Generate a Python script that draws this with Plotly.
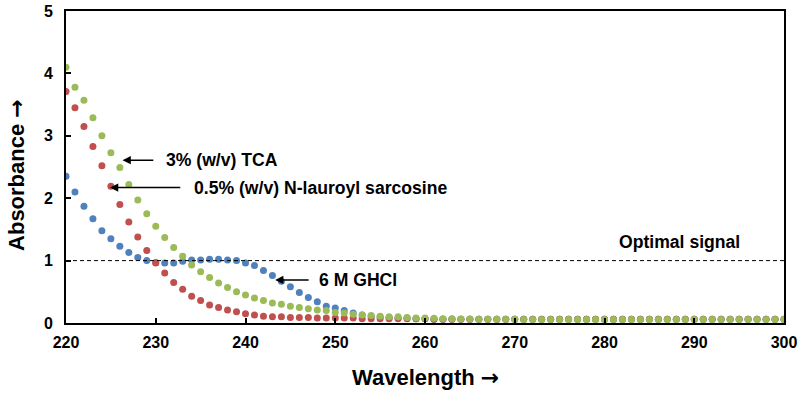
import plotly.graph_objects as go

wavelength = list(range(220, 301))

ghcl = [2.35, 2.10, 1.87, 1.67, 1.48, 1.35, 1.23, 1.13, 1.05, 1.00,
        0.97, 0.96, 0.96, 0.99, 1.01, 1.01, 1.02, 1.02, 1.01, 1.00,
        0.96, 0.92, 0.84, 0.76, 0.67, 0.58, 0.49, 0.41, 0.34, 0.27,
        0.24, 0.20, 0.16, 0.13, 0.11, 0.10, 0.09, 0.08, 0.08, 0.07,
        0.07, 0.06, 0.06, 0.06, 0.06, 0.06, 0.06, 0.06, 0.06, 0.06,
        0.06, 0.06, 0.06, 0.06, 0.06, 0.06, 0.06, 0.06, 0.06, 0.06,
        0.06, 0.06, 0.06, 0.06, 0.06, 0.06, 0.06, 0.06, 0.06, 0.06,
        0.06, 0.06, 0.06, 0.06, 0.06, 0.06, 0.06, 0.06, 0.06, 0.06,
        0.06]

sarcosine = [3.71, 3.45, 3.15, 2.83, 2.52, 2.19, 1.90, 1.62, 1.38, 1.16,
             0.96, 0.80, 0.65, 0.54, 0.43, 0.36, 0.29, 0.25, 0.21, 0.18,
             0.15, 0.13, 0.11, 0.10, 0.10, 0.09, 0.09, 0.09, 0.08, 0.08,
             0.08, 0.08, 0.08, 0.07, 0.07, 0.07, 0.07, 0.07, 0.07, 0.07,
             0.07, 0.06, 0.06, 0.06, 0.06, 0.06, 0.06, 0.06, 0.06, 0.06,
             0.06, 0.06, 0.06, 0.06, 0.06, 0.06, 0.06, 0.06, 0.06, 0.06,
             0.06, 0.06, 0.06, 0.06, 0.06, 0.06, 0.06, 0.06, 0.06, 0.06,
             0.06, 0.06, 0.06, 0.06, 0.06, 0.06, 0.06, 0.06, 0.06, 0.06,
             0.06]

tca = [4.10, 3.78, 3.57, 3.29, 3.00, 2.73, 2.49, 2.22, 1.97, 1.75,
       1.55, 1.37, 1.21, 1.07, 0.93, 0.82, 0.73, 0.64, 0.57, 0.50,
       0.45, 0.40, 0.36, 0.32, 0.30, 0.27, 0.25, 0.23, 0.21, 0.20,
       0.17, 0.16, 0.14, 0.13, 0.12, 0.11, 0.10, 0.10, 0.09, 0.08,
       0.08, 0.075, 0.07, 0.07, 0.065, 0.065, 0.06, 0.06, 0.06, 0.06,
       0.06, 0.055, 0.055, 0.055, 0.055, 0.055, 0.055, 0.055, 0.055, 0.055,
       0.055, 0.055, 0.055, 0.055, 0.055, 0.055, 0.055, 0.055, 0.055, 0.055,
       0.055, 0.055, 0.055, 0.055, 0.055, 0.055, 0.055, 0.055, 0.055, 0.055,
       0.055]

series_names = ["6 M GHCl", "0.5% (w/v) N-lauroyl sarcosine", "3% (w/v) TCA"]
series_colors = ["#4F81BD", "#C0504D", "#9BBB59"]
x_ticks = [220, 230, 240, 250, 260, 270, 280, 290, 300]
y_ticks = [0, 1, 2, 3, 4, 5]
optimal_signal = 1.0

FONT = "Liberation Sans, Arial, sans-serif"
ARROW = '<span style="font-family:DejaVu Sans">→</span>'

fig = go.Figure()
for name, vals, col in zip(series_names, [ghcl, sarcosine, tca], series_colors):
    fig.add_trace(go.Scatter(x=wavelength, y=vals, mode="markers", name=name,
                             marker=dict(color=col, size=7, line=dict(width=0))))

fig.add_shape(type="line", xref="x", yref="y", x0=220, x1=300,
              y0=optimal_signal, y1=optimal_signal,
              line=dict(color="black", width=1, dash="4px,3px"))

# arrows (head at x,y; tail at ax,ay)
arrows = [
    dict(x=226.3, y=2.61, ax=229.9, ay=2.61),
    dict(x=224.9, y=2.17, ax=232.9, ay=2.17),
    dict(x=243.3, y=0.69, ax=247.2, ay=0.69),
]
for a in arrows:
    fig.add_annotation(x=a["x"], y=a["y"], ax=a["ax"], ay=a["ay"], xref="x", yref="y",
                       axref="x", ayref="y", text="", showarrow=True,
                       arrowhead=2, arrowsize=1.1, arrowwidth=1.5, arrowcolor="black")

labels = [
    ("3% (w/v) TCA", 230.9, 2.61),
    ("0.5% (w/v) N-lauroyl sarcosine", 234.0, 2.17),
    ("6 M GHCl", 248.0, 0.69),
]
for txt, lx, ly in labels:
    fig.add_annotation(x=lx, y=ly, xref="x", yref="y", text="<b>%s</b>" % txt,
                       showarrow=False, xanchor="left", yanchor="middle",
                       font=dict(family=FONT, size=17.6, color="black"))

fig.add_annotation(x=295.3, y=1.3, xref="x", yref="y", text="<b>Optimal signal</b>",
                   showarrow=False, xanchor="right", yanchor="middle",
                   font=dict(family=FONT, size=17.6, color="black"))

# axis titles
fig.add_annotation(x=0.5, y=-0.176, xref="paper", yref="paper",
                   text="<b>Wavelength %s</b>" % ARROW, showarrow=False,
                   xanchor="center", yanchor="middle",
                   font=dict(family=FONT, size=22, color="black"))
fig.add_annotation(x=-0.069, y=0.476, xref="paper", yref="paper",
                   text="<b>Absorbance %s</b>" % ARROW, showarrow=False,
                   textangle=-90, xanchor="center", yanchor="middle",
                   font=dict(family=FONT, size=22, color="black"))

axis_common = dict(showline=True, linecolor="black", linewidth=2, mirror=True,
                   ticks="inside", ticklen=5, tickwidth=1.5, tickcolor="black",
                   showgrid=False, zeroline=False, automargin=False,
                   ticklabeloverflow="allow",
                   tickfont=dict(family=FONT, size=16, color="black"))

fig.update_xaxes(range=[220, 300], tickvals=x_ticks,
                 ticktext=["<b>%d</b>" % v for v in x_ticks],
                 ticklabelstandoff=4, **axis_common)
fig.update_yaxes(range=[0, 5], tickvals=y_ticks,
                 ticktext=["<b>%d</b>" % v for v in y_ticks],
                 ticklabelstandoff=8, **axis_common)

fig.update_layout(width=800, height=393, showlegend=False,
                  margin=dict(l=66, r=16, t=11, b=70, autoexpand=False),
                  plot_bgcolor="white", paper_bgcolor="white")

fig.write_html("out.html", config={"displayModeBar": False},
               post_script="document.body.style.margin='0';"
                           "document.body.style.overflow='hidden';")
